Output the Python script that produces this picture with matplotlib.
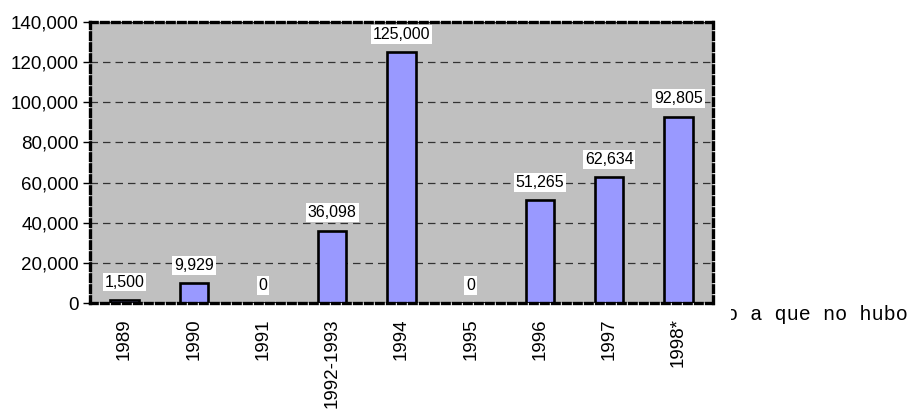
import numpy as np
import matplotlib
matplotlib.use('Agg')
import matplotlib.pyplot as plt
from matplotlib.patches import Rectangle
from matplotlib.ticker import FuncFormatter

# data
years = ['1989', '1990', '1991', '1992-1993', '1994', '1995', '1996', '1997', '1998*']
values = [1500, 9929, 0, 36098, 125000, 0, 51265, 62634, 92805]
side_note = 'o a que no hubo'   # tail of a note cut off by the chart area

plt.rcParams['font.family'] = ['Liberation Sans', 'DejaVu Sans']

fig = plt.figure(figsize=(9.16, 4.12), dpi=100)
ax = fig.add_axes([90 / 916, 1 - 303 / 412, 623 / 916, 281 / 412])

ax.set_facecolor('#C0C0C0')
x = np.arange(len(years))
ax.bar(x, values, width=0.41, color='#9999FF', edgecolor='black',
       linewidth=1.9, zorder=3)

for xi, v in zip(x, values):
    ax.annotate('{:,}'.format(v), (xi, v), xytext=(0, 7.5),
                textcoords='offset points', ha='center', va='bottom',
                fontsize=11.5, zorder=5,
                bbox=dict(boxstyle='square,pad=0.12', fc='white', ec='none'))

ax.set_xlim(-0.5, len(years) - 0.5)
ax.set_ylim(0, 140000)
ax.set_yticks(np.arange(0, 140001, 20000))
ax.yaxis.set_major_formatter(FuncFormatter(lambda v, p: '{:,.0f}'.format(v)))
ax.set_xticks(x)
ax.set_xticklabels(years, rotation=90, va='top', ha='center')
ax.tick_params(axis='y', labelsize=13.5, length=5, width=1, direction='out', pad=3)
ax.tick_params(axis='x', labelsize=13.5, length=0, pad=11)

ax.yaxis.grid(True, color='#333333', linestyle=(0, (6, 4)), linewidth=0.9)
ax.set_axisbelow(True)

for s in ax.spines.values():
    s.set_color('black')
    s.set_linewidth(2.4)
    s.set_linestyle((0, (2, 1.3)))
    s.set_zorder(4)

# side note, its first letter half hidden
fig.text(908 / 916, 1 - 315 / 412, side_note, family='Liberation Mono',
         fontsize=14.5, ha='right', va='center', zorder=-2)
cover = Rectangle((0, 0), 731 / 916, 1, transform=fig.transFigure,
                  facecolor='white', edgecolor='none', zorder=-1)
fig.patches.append(cover)

fig.savefig('out.png', dpi=100)
